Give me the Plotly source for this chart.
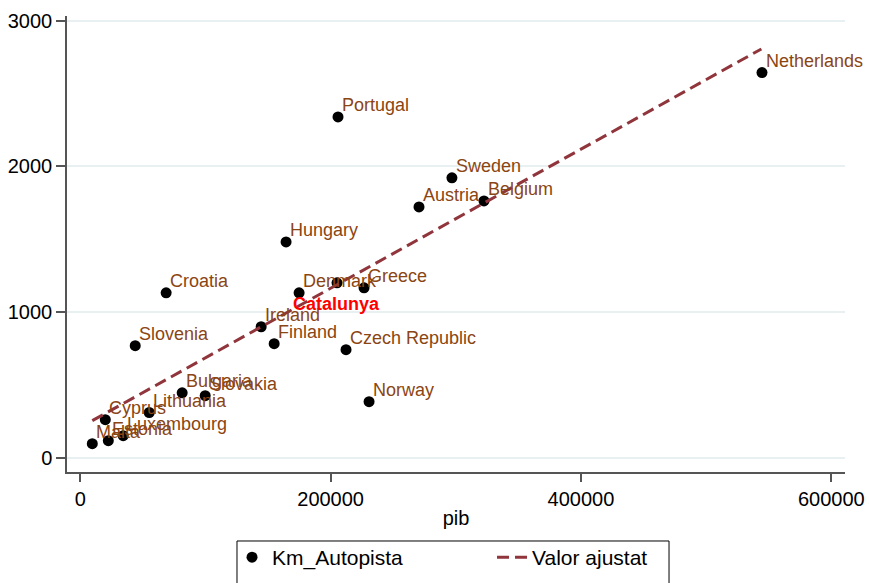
import plotly.graph_objects as go

countries = ["Netherlands", "Portugal", "Sweden", "Belgium", "Austria", "Hungary",
             "Denmark", "Greece", "Croatia", "Ireland", "Finland", "Czech Republic",
             "Slovenia", "Norway", "Bulgaria", "Slovakia", "Lithuania", "Cyprus",
             "Luxembourg", "Estonia", "Malta"]
pib = [544600, 205900, 296900, 322500, 270600, 164400,
       174800, 226700, 68600, 144500, 154900, 212300,
       43900, 230700, 81400, 99800, 55100, 20000,
       34300, 22400, 9600]
km_autopista = [2643, 2339, 1921, 1763, 1722, 1482,
                1133, 1167, 1133, 900, 784, 743,
                770, 386, 447, 427, 312, 263,
                153, 119, 98]

cat_name = "Catalunya"
cat_pib = 205100
cat_km = 1201

fit_pib = [9600, 544100]
fit_km = [256, 2805]

x_ticks = [0, 200000, 400000, 600000]
y_ticks = [0, 1000, 2000, 3000]

FONT = "Liberation Sans, Arial, sans-serif"
LABEL_COLOR = "#8B4513"
FIT_COLOR = "rgb(144,53,59)"

all_x = pib + [cat_pib]
all_y = km_autopista + [cat_km]

fig = go.Figure()
fig.add_trace(go.Scatter(
    x=all_x, y=all_y, mode="markers", name="Km_Autopista",
    marker=dict(color="black", size=11), legend="legend",
))
fig.add_trace(go.Scatter(
    x=fit_pib, y=fit_km, mode="lines", name="Valor ajustat",
    line=dict(color=FIT_COLOR, width=3, dash="12px,6px"), legend="legend2",
))

annotations = []
for name, xv, yv in zip(countries, pib, km_autopista):
    annotations.append(dict(
        x=xv, y=yv, xref="x", yref="y", text=name, showarrow=False,
        xanchor="left", yanchor="middle", xshift=2, yshift=12,
        font=dict(family=FONT, size=18, color=LABEL_COLOR),
    ))
annotations.append(dict(
    x=cat_pib, y=cat_km, xref="x", yref="y", text="<b>" + cat_name + "</b>",
    showarrow=False, xanchor="center", yanchor="middle", xshift=-1, yshift=-21,
    font=dict(family=FONT, size=18, color="red"),
))

legend_common = dict(
    orientation="h", y=-0.1425, yanchor="top", xanchor="left",
    borderwidth=0, bgcolor="rgba(0,0,0,0)",
    font=dict(family=FONT, size=21, color="black"),
)

fig.update_layout(
    width=869, height=583,
    margin=dict(l=67, r=24, t=16, b=111, autoexpand=False),
    paper_bgcolor="white", plot_bgcolor="white",
    font=dict(family=FONT, size=20, color="black"),
    annotations=annotations,
    showlegend=True,
    legend=dict(x=0.2121, **legend_common),
    legend2=dict(x=0.5463, **legend_common),
    shapes=[dict(
        type="rect", xref="paper", yref="paper",
        x0=0.2185, x1=0.7738, y0=-0.30, y1=-0.1513,
        line=dict(color="black", width=1), fillcolor="rgba(0,0,0,0)",
    )],
    xaxis=dict(
        range=[-10600, 610900], tickvals=x_ticks, ticktext=[str(v) for v in x_ticks],
        showgrid=False, zeroline=False, automargin=False,
        showline=True, linecolor="#555555", linewidth=1.5,
        ticks="outside", ticklen=8, tickwidth=1.5, tickcolor="#555555",
        tickfont=dict(family=FONT, size=20, color="black"),
        title=dict(text="pib", font=dict(family=FONT, size=20, color="black"), standoff=2),
    ),
    yaxis=dict(
        range=[-96, 3031], tickvals=y_ticks, ticktext=[str(v) for v in y_ticks],
        showgrid=True, gridcolor="#e8f0f2", gridwidth=2, zeroline=False, automargin=False,
        showline=True, linecolor="#555555", linewidth=1.5,
        ticks="outside", ticklen=9, tickwidth=1.5, tickcolor="#555555",
        tickfont=dict(family=FONT, size=20, color="black"),
    ),
)

fig.write_html("out.html", config={"displayModeBar": False},
               post_script="document.body.style.margin='0';")
